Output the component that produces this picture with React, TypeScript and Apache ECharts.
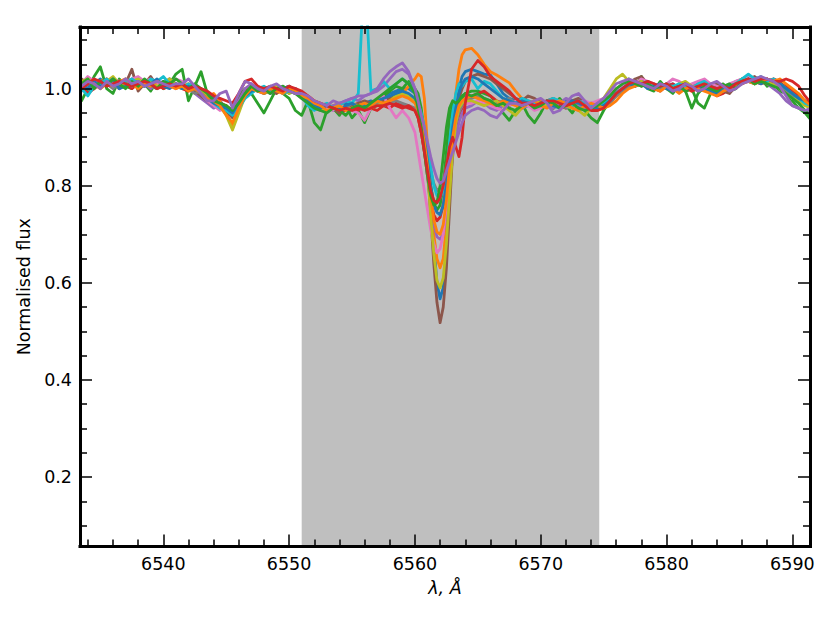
import React, { useEffect, useRef } from "react";
import * as echarts from "echarts";

// Wavelength grid (Angstrom)
const WAVELENGTH = [
  6533.5, 6534, 6534.5, 6535, 6535.5, 6536, 6536.5, 6537, 6537.5, 6538, 6538.5, 6539, 6539.5, 6540, 6540.5, 6541,
  6541.5, 6542, 6542.5, 6543, 6543.5, 6544, 6544.5, 6545, 6545.5, 6546, 6546.5, 6547, 6547.5, 6548, 6548.5, 6549, 6549.5, 6550, 6550.5, 6551,
  6551.5, 6552, 6552.5, 6553, 6553.5, 6554, 6554.5, 6555, 6555.5, 6556, 6556.5, 6557, 6557.5, 6558, 6558.5, 6559, 6559.5, 6560,
  6560.25, 6560.5, 6560.75, 6561, 6561.25, 6561.5, 6561.75, 6562, 6562.25, 6562.5, 6562.75, 6563, 6563.25, 6563.5, 6563.75, 6564,
  6564.5, 6565, 6565.5, 6566, 6566.5, 6567, 6567.5, 6568, 6568.5, 6569, 6569.5, 6570, 6570.5, 6571, 6571.5, 6572, 6572.5, 6573, 6573.5, 6574,
  6574.5, 6575, 6575.5, 6576, 6576.5, 6577, 6577.5, 6578, 6578.5, 6579, 6579.5, 6580, 6580.5, 6581, 6581.5, 6582, 6582.5, 6583, 6583.5, 6584,
  6584.5, 6585, 6585.5, 6586, 6586.5, 6587, 6587.5, 6588, 6588.5, 6589, 6589.5, 6590, 6590.5, 6591, 6591.5,
];

const SPEC_01 = [
  1.0, 0.99, 1.01, 1.02, 1.005, 1.015, 1.0, 1.01, 1.02, 1.005, 1.01, 1.0, 1.015, 1.01, 1.005, 1.01,
  1.005, 1.0, 0.995, 1.0, 0.99, 0.98, 0.975, 0.96, 0.95, 0.97, 0.99, 1.0, 0.995, 1.0, 0.99, 0.995, 1.0, 0.99, 1.0, 0.985,
  0.975, 0.97, 0.96, 0.965, 0.955, 0.96, 0.97, 0.965, 0.96, 0.97, 0.975, 0.97, 0.98, 0.99, 0.995, 1.0, 1.0, 0.99,
  0.975, 0.95, 0.91, 0.85, 0.77, 0.68, 0.6, 0.567, 0.59, 0.67, 0.78, 0.88, 0.95, 1.0, 1.025, 1.035,
  1.04, 1.035, 1.03, 1.028, 1.01, 0.99, 0.98, 0.975, 0.97, 0.965, 0.97, 0.975, 0.965, 0.96, 0.97, 0.975, 0.97, 0.96, 0.965, 0.97,
  0.965, 0.97, 0.98, 0.99, 1.0, 1.005, 1.015, 1.01, 1.005, 1.01,
  1.0, 1.005, 1.01, 1.0, 0.995, 1.0, 1.01, 1.005, 1.0, 0.99,
  0.995, 1.0, 1.01, 1.02, 1.015, 1.01, 1.02, 1.015, 1.01, 1.005,
  0.995, 0.985, 0.975, 0.97, 0.965,
];
const SPEC_02 = [
  1.01, 1.02, 1.005, 1.015, 1.02, 1.01, 1.0, 1.015, 1.01, 1.02, 1.005, 1.01, 1.0, 1.01, 1.015, 1.005,
  1.0, 1.01, 0.995, 0.99, 0.985, 0.99, 0.975, 0.95, 0.925, 0.96, 0.99, 1.0, 1.005, 0.995, 1.0, 0.99, 1.0, 1.005, 0.995, 0.99,
  0.985, 0.975, 0.97, 0.96, 0.965, 0.97, 0.96, 0.965, 0.97, 0.96, 0.965, 0.97, 0.975, 0.97, 0.98, 0.99, 1.005, 1.02,
  1.03, 1.025, 0.98, 0.88, 0.78, 0.7, 0.65, 0.631, 0.65, 0.72, 0.82, 0.92, 0.99, 1.04, 1.07, 1.08,
  1.083, 1.07, 1.05, 1.035, 1.028, 1.02, 1.012, 0.995, 0.98, 0.97, 0.965, 0.975, 0.965, 0.96, 0.97, 0.965, 0.975, 0.97, 0.96, 0.965,
  0.955, 0.96, 0.97, 0.985, 0.995, 1.005, 1.01, 1.015, 1.005, 1.0,
  1.01, 1.0, 0.995, 1.005, 1.0, 0.995, 1.005, 1.0, 0.995, 0.99,
  1.0, 1.005, 1.01, 1.015, 1.02, 1.015, 1.02, 1.01, 1.015, 1.01,
  1.0, 0.99, 0.98, 0.97, 0.96,
];
const SPEC_03 = [
  0.975, 1.0, 1.025, 1.045, 1.0, 0.99, 1.02, 1.005, 1.0, 1.02, 1.01, 0.995, 1.015, 1.0, 1.01, 1.03,
  1.04, 0.975, 1.005, 1.035, 0.99, 0.975, 0.96, 0.965, 0.95, 0.985, 1.0, 0.99, 0.97, 0.95, 0.975, 1.0, 0.99, 0.98, 0.955, 0.945,
  0.975, 0.93, 0.915, 0.955, 0.96, 0.945, 0.965, 0.94, 0.955, 0.93, 0.96, 0.975, 0.985, 0.995, 1.005, 1.0, 1.015, 1.0,
  0.99, 0.96, 0.91, 0.85, 0.8, 0.765, 0.75, 0.76, 0.8, 0.87, 0.94, 0.965, 0.975, 0.97, 0.98, 0.99,
  0.995, 0.995, 0.99, 0.985, 0.97, 0.95, 0.935, 0.955, 0.97, 0.945, 0.93, 0.95, 0.975, 0.96, 0.98, 0.965, 0.95, 0.97, 0.955, 0.94,
  0.93, 0.955, 0.975, 0.99, 1.0, 1.02, 1.005, 1.025, 1.0, 0.995,
  1.015, 1.0, 0.99, 1.01, 0.995, 1.0, 0.97, 0.96, 0.99, 1.005,
  1.01, 0.995, 1.0, 1.02, 1.025, 1.01, 1.02, 1.005, 1.01, 0.995,
  0.99, 0.975, 0.96, 0.95, 0.935,
];
const SPEC_04 = [
  1.005, 0.99, 1.0, 1.01, 1.02, 1.005, 1.015, 1.01, 1.0, 1.01, 1.005, 1.015, 1.01, 1.0, 1.005, 1.01,
  1.0, 0.995, 1.005, 0.99, 0.98, 0.975, 0.97, 0.965, 0.955, 0.975, 0.995, 1.005, 1.0, 0.99, 0.995, 1.0, 0.99, 0.995, 1.0, 0.99,
  0.98, 0.965, 0.96, 0.955, 0.96, 0.95, 0.955, 0.96, 0.955, 0.965, 0.96, 0.955, 0.965, 0.96, 0.97, 0.965, 0.96, 0.955,
  0.94, 0.91, 0.87, 0.82, 0.77, 0.74, 0.728, 0.735, 0.76, 0.8, 0.85, 0.89, 0.92, 0.945, 0.96, 0.975,
  0.985, 0.99, 0.995, 0.985, 0.975, 0.97, 0.965, 0.975, 0.98, 0.97, 0.96, 0.965, 0.975, 0.97, 0.965, 0.96, 0.97, 0.975, 0.965, 0.96,
  0.96, 0.965, 0.975, 0.99, 1.005, 1.01, 1.015, 1.005, 1.01, 1.0,
  0.995, 1.005, 1.01, 1.0, 1.005, 0.995, 1.0, 1.01, 0.995, 0.985,
  0.99, 1.0, 1.005, 1.01, 1.02, 1.015, 1.01, 1.015, 1.02, 1.01,
  1.005, 0.995, 0.985, 0.975, 0.97,
];
const SPEC_05 = [
  0.995, 1.01, 1.02, 1.005, 1.01, 1.015, 1.0, 1.01, 1.005, 1.02, 1.01, 1.0, 1.01, 1.015, 1.005, 1.01,
  1.005, 1.0, 0.99, 0.98, 0.97, 0.96, 0.965, 0.96, 0.955, 0.975, 1.0, 1.01, 0.995, 0.99, 1.0, 0.995, 1.0, 0.995, 0.99, 0.98,
  0.97, 0.965, 0.97, 0.96, 0.965, 0.97, 0.975, 0.98, 0.975, 0.985, 0.99, 0.995, 1.005, 1.02, 1.035, 1.04, 1.03, 1.0,
  0.97, 0.93, 0.88, 0.82, 0.76, 0.72, 0.695, 0.69, 0.7, 0.74, 0.8, 0.86, 0.9, 0.93, 0.95, 0.96,
  0.965, 0.975, 0.97, 0.96, 0.955, 0.965, 0.975, 0.97, 0.96, 0.965, 0.975, 0.97, 0.965, 0.96, 0.97, 0.98, 0.975, 0.965, 0.96, 0.97,
  0.97, 0.975, 0.985, 0.995, 1.005, 1.01, 1.015, 1.01, 1.005, 1.0,
  1.005, 1.01, 1.005, 0.995, 1.0, 1.005, 1.01, 1.005, 1.0, 0.995,
  1.0, 1.005, 1.015, 1.02, 1.025, 1.02, 1.015, 1.01, 1.0, 0.99,
  0.975, 0.965, 0.96, 0.955, 0.955,
];
const SPEC_06 = [
  1.02, 1.01, 1.0, 1.015, 1.005, 1.02, 1.005, 1.01, 1.04, 0.995, 1.01, 1.025, 1.005, 1.01, 1.02, 1.0,
  1.01, 1.005, 0.995, 0.985, 0.975, 0.965, 0.97, 0.955, 0.94, 0.96, 0.985, 0.995, 1.0, 0.995, 1.005, 0.99, 1.0, 1.005, 0.995, 0.985,
  0.975, 0.96, 0.955, 0.965, 0.96, 0.95, 0.96, 0.965, 0.97, 0.975, 0.97, 0.965, 0.975, 0.98, 0.985, 0.99, 0.985, 0.975,
  0.96, 0.94, 0.9, 0.84, 0.74, 0.64, 0.56, 0.518, 0.55, 0.63, 0.75, 0.87, 0.94, 0.98, 1.0, 1.015,
  1.025, 1.03, 1.025, 1.02, 1.01, 1.0, 0.99, 0.98, 0.975, 0.985, 0.98, 0.97, 0.975, 0.98, 0.97, 0.965, 0.975, 0.98, 0.97, 0.965,
  0.96, 0.965, 0.975, 0.985, 1.0, 1.01, 1.02, 1.025, 1.01, 1.005,
  1.0, 1.01, 1.005, 1.0, 1.01, 1.005, 0.995, 1.0, 1.005, 1.01,
  0.995, 0.99, 1.005, 1.01, 1.02, 1.025, 1.015, 1.01, 1.02, 1.015,
  1.0, 0.99, 0.98, 0.97, 0.96,
];
const SPEC_07 = [
  1.01, 1.025, 1.015, 1.005, 1.01, 1.02, 1.015, 1.005, 1.02, 1.025, 1.015, 1.02, 1.01, 1.005, 1.01, 1.02,
  1.015, 1.005, 1.0, 0.99, 0.975, 0.965, 0.955, 0.96, 0.95, 0.965, 0.99, 1.0, 1.005, 0.995, 1.0, 1.005, 0.995, 1.0, 0.99, 0.985,
  0.975, 0.97, 0.965, 0.96, 0.955, 0.965, 0.96, 0.955, 0.95, 0.935, 0.96, 0.975, 0.985, 0.96, 0.94, 0.955, 0.94, 0.91,
  0.87, 0.83, 0.79, 0.75, 0.71, 0.68, 0.662, 0.67, 0.7, 0.76, 0.83, 0.89, 0.93, 0.955, 0.965, 0.97,
  0.97, 0.975, 0.97, 0.965, 0.96, 0.955, 0.965, 0.975, 0.97, 0.965, 0.955, 0.96, 0.97, 0.975, 0.97, 0.965, 0.96, 0.97, 0.975, 0.97,
  0.975, 0.98, 0.99, 1.0, 1.005, 1.015, 1.01, 1.02, 1.015, 1.01,
  1.005, 1.01, 1.02, 1.015, 1.005, 1.01, 1.015, 1.02, 1.01, 1.005,
  1.0, 1.01, 1.015, 1.02, 1.025, 1.02, 1.015, 1.02, 1.01, 1.0,
  0.99, 0.98, 0.975, 0.97, 0.965,
];
const SPEC_08 = [
  1.0, 1.01, 1.005, 1.015, 1.01, 1.0, 1.01, 1.02, 1.005, 1.01, 1.015, 1.005, 1.0, 1.01, 1.02, 1.01,
  1.005, 1.0, 0.99, 0.995, 0.985, 0.975, 0.97, 0.96, 0.955, 0.97, 0.99, 0.995, 1.0, 0.995, 0.99, 1.0, 1.005, 0.995, 0.99, 0.985,
  0.975, 0.97, 0.96, 0.965, 0.96, 0.955, 0.96, 0.97, 0.965, 0.96, 0.965, 0.97, 0.965, 0.97, 0.975, 0.97, 0.965, 0.96,
  0.95, 0.93, 0.9, 0.86, 0.83, 0.805, 0.79, 0.795, 0.81, 0.84, 0.87, 0.9, 0.93, 0.95, 0.965, 0.975,
  0.98, 0.985, 0.98, 0.975, 0.97, 0.975, 0.98, 0.97, 0.965, 0.975, 0.97, 0.965, 0.97, 0.975, 0.97, 0.96, 0.965, 0.97, 0.965, 0.96,
  0.96, 0.96, 0.97, 0.985, 0.995, 1.005, 1.01, 1.015, 1.01, 1.005,
  1.0, 1.005, 1.0, 1.005, 1.01, 1.0, 1.005, 1.01, 1.005, 1.0,
  0.995, 1.005, 1.01, 1.015, 1.02, 1.015, 1.01, 1.015, 1.01, 1.005,
  0.995, 0.985, 0.975, 0.97, 0.96,
];
const SPEC_09 = [
  1.015, 1.02, 1.01, 1.0, 1.015, 1.025, 1.01, 1.005, 1.015, 1.02, 1.01, 1.015, 1.005, 1.01, 1.02, 1.01,
  1.005, 1.01, 1.0, 0.995, 0.985, 0.975, 0.965, 0.945, 0.915, 0.95, 0.985, 0.995, 1.0, 0.99, 0.995, 1.005, 1.0, 0.99, 0.995, 0.985,
  0.975, 0.965, 0.96, 0.955, 0.96, 0.965, 0.955, 0.96, 0.965, 0.97, 0.96, 0.965, 0.97, 0.975, 0.985, 0.99, 0.985, 0.975,
  0.96, 0.94, 0.9, 0.83, 0.74, 0.66, 0.605, 0.59, 0.61, 0.68, 0.78, 0.87, 0.93, 0.96, 0.97, 0.975,
  0.975, 0.97, 0.965, 0.97, 0.975, 0.965, 0.955, 0.945, 0.96, 0.97, 0.975, 0.97, 0.965, 0.97, 0.975, 0.965, 0.96, 0.955, 0.945, 0.96,
  0.96, 0.98, 1.0, 1.02, 1.03, 1.015, 1.01, 1.015, 1.005, 1.0,
  1.01, 1.005, 1.0, 1.01, 1.015, 1.005, 1.0, 1.01, 1.005, 0.995,
  1.0, 1.005, 1.01, 1.02, 1.015, 1.01, 1.02, 1.015, 1.01, 1.0,
  0.99, 0.98, 0.975, 0.965, 0.96,
];
const SPEC_10 = [
  1.0, 0.985, 1.005, 1.01, 1.02, 1.005, 1.01, 1.015, 1.02, 1.01, 1.005, 1.02, 1.015, 1.025, 1.01, 1.005,
  1.0, 1.01, 1.005, 0.99, 0.98, 0.97, 0.96, 0.955, 0.945, 0.96, 0.98, 0.99, 1.0, 1.005, 0.995, 1.0, 0.99, 0.995, 1.0, 0.985,
  0.965, 0.955, 0.965, 0.97, 0.96, 0.965, 0.975, 0.97, 0.99, 1.25, 0.995, 1.0, 1.015, 1.0, 1.01, 1.02, 1.01, 0.99,
  0.97, 0.95, 0.92, 0.88, 0.84, 0.8, 0.78, 0.775, 0.79, 0.83, 0.89, 0.95, 0.99, 1.01, 1.005, 1.015,
  1.02, 1.0, 1.015, 1.01, 0.995, 0.98, 0.975, 0.97, 0.98, 0.975, 0.97, 0.965, 0.975, 0.98, 0.975, 0.97, 0.965, 0.975, 0.97, 0.965,
  0.96, 0.97, 0.98, 0.99, 1.0, 1.01, 1.005, 1.01, 1.015, 1.005,
  1.01, 1.0, 1.005, 1.01, 1.005, 1.0, 1.01, 1.015, 1.005, 1.0,
  0.995, 1.005, 1.01, 1.02, 1.03, 1.02, 1.025, 1.015, 1.02, 1.01,
  1.0, 0.99, 0.98, 0.97, 0.965,
];
const SPEC_11 = [
  1.01, 1.0, 1.015, 1.005, 1.01, 1.02, 1.0, 1.005, 1.01, 1.015, 1.005, 1.01, 1.02, 1.005, 1.0, 1.01,
  1.0, 1.005, 1.0, 0.99, 0.98, 0.97, 0.965, 0.96, 0.95, 0.97, 0.985, 0.995, 1.0, 0.99, 1.0, 0.995, 1.0, 1.005, 0.995, 0.985,
  0.975, 0.965, 0.96, 0.965, 0.96, 0.955, 0.965, 0.97, 0.96, 0.965, 0.97, 0.975, 0.98, 0.985, 0.99, 0.995, 0.99, 0.98,
  0.965, 0.94, 0.9, 0.85, 0.8, 0.76, 0.745, 0.74, 0.76, 0.8, 0.86, 0.92, 0.96, 0.99, 1.01, 1.02,
  1.025, 1.02, 1.01, 1.0, 0.99, 0.98, 0.975, 0.97, 0.975, 0.97, 0.965, 0.97, 0.975, 0.965, 0.96, 0.97, 0.975, 0.97, 0.965, 0.96,
  0.96, 0.965, 0.975, 0.99, 1.0, 1.01, 1.005, 1.01, 1.0, 1.005,
  1.01, 1.0, 0.995, 1.005, 1.01, 1.0, 1.005, 1.0, 0.995, 0.99,
  1.0, 1.005, 1.01, 1.015, 1.02, 1.015, 1.01, 1.02, 1.015, 1.01,
  1.0, 0.99, 0.98, 0.975, 0.97,
];
const SPEC_12 = [
  1.005, 1.015, 1.01, 1.0, 1.01, 1.005, 1.015, 1.02, 1.01, 1.0, 1.01, 1.005, 1.015, 1.01, 1.005, 1.0,
  1.005, 0.995, 1.0, 0.99, 0.98, 0.975, 0.965, 0.945, 0.93, 0.96, 0.985, 1.0, 0.995, 0.99, 1.0, 0.995, 0.99, 1.0, 0.995, 0.985,
  0.98, 0.97, 0.965, 0.955, 0.96, 0.965, 0.955, 0.96, 0.965, 0.97, 0.965, 0.975, 0.97, 0.975, 0.98, 0.985, 0.98, 0.97,
  0.955, 0.93, 0.89, 0.84, 0.78, 0.73, 0.705, 0.7, 0.72, 0.77, 0.84, 0.9, 0.94, 0.965, 0.975, 0.98,
  0.985, 0.98, 0.975, 0.97, 0.965, 0.975, 0.97, 0.965, 0.96, 0.97, 0.975, 0.965, 0.96, 0.97, 0.975, 0.97, 0.96, 0.955, 0.965, 0.97,
  0.965, 0.96, 0.965, 0.975, 0.99, 1.0, 1.005, 1.01, 1.005, 1.0,
  0.995, 1.005, 1.0, 0.99, 1.0, 1.005, 1.0, 0.995, 0.99, 0.985,
  0.995, 1.0, 1.005, 1.01, 1.015, 1.01, 1.015, 1.02, 1.015, 1.02,
  1.01, 1.0, 0.99, 0.975, 0.965,
];
const SPEC_13 = [
  1.01, 1.02, 1.0, 1.015, 1.005, 1.02, 1.01, 1.0, 1.015, 1.005, 1.02, 1.01, 1.0, 1.015, 1.01, 1.02,
  1.01, 1.0, 1.01, 1.0, 0.99, 0.975, 0.97, 0.965, 0.955, 0.97, 0.99, 1.005, 0.995, 1.0, 0.99, 1.0, 1.005, 0.995, 0.99, 0.98,
  0.97, 0.96, 0.955, 0.95, 0.96, 0.955, 0.945, 0.96, 0.965, 0.96, 0.97, 0.98, 0.99, 1.0, 1.01, 1.02, 1.01, 0.99,
  0.96, 0.92, 0.87, 0.82, 0.78, 0.76, 0.765, 0.8, 0.86, 0.92, 0.96, 0.975, 0.97, 0.975, 0.985, 0.99,
  0.985, 0.99, 0.98, 0.975, 0.965, 0.97, 0.96, 0.955, 0.965, 0.97, 0.96, 0.965, 0.975, 0.97, 0.96, 0.965, 0.97, 0.96, 0.955, 0.96,
  0.965, 0.975, 0.985, 1.0, 1.01, 1.015, 1.01, 1.005, 1.01, 1.0,
  1.005, 1.01, 1.0, 1.005, 0.995, 0.96, 0.99, 1.005, 1.0, 0.995,
  1.005, 1.01, 1.0, 1.015, 1.02, 1.01, 1.015, 1.01, 1.005, 1.0,
  0.99, 0.98, 0.97, 0.955, 0.94,
];
const SPEC_14 = [
  1.0, 1.01, 1.02, 1.015, 1.005, 1.01, 1.015, 1.01, 1.005, 1.01, 1.015, 1.01, 1.0, 1.005, 1.01, 1.005,
  1.01, 1.0, 1.005, 1.0, 0.995, 0.985, 0.98, 0.975, 0.97, 0.99, 1.015, 1.02, 1.005, 1.0, 1.005, 1.0, 0.995, 1.005, 1.0, 0.995,
  0.985, 0.975, 0.97, 0.965, 0.96, 0.955, 0.96, 0.955, 0.96, 0.955, 0.96, 0.965, 0.965, 0.97, 0.965, 0.96, 0.965, 0.955,
  0.94, 0.91, 0.87, 0.83, 0.79, 0.77, 0.765, 0.775, 0.8, 0.84, 0.88, 0.9, 0.88, 0.86, 0.9, 0.97,
  1.04, 1.058, 1.045, 1.025, 1.015, 1.005, 0.995, 0.98, 0.97, 0.97, 0.965, 0.97, 0.975, 0.975, 0.97, 0.965, 0.97, 0.975, 0.965, 0.955,
  0.955, 0.96, 0.975, 0.99, 1.0, 1.01, 1.015, 1.01, 1.015, 1.01,
  1.005, 1.01, 1.0, 1.005, 1.01, 1.0, 1.005, 1.01, 1.005, 1.0,
  1.005, 1.0, 1.01, 1.015, 1.02, 1.015, 1.02, 1.02, 1.015, 1.015,
  1.02, 1.015, 1.005, 0.985, 0.97,
];
const SPEC_15 = [
  1.005, 1.015, 1.01, 1.0, 1.015, 1.005, 1.01, 1.02, 1.01, 1.015, 1.005, 1.01, 1.015, 1.01, 1.005, 1.01,
  1.01, 1.02, 1.005, 0.99, 0.975, 0.975, 0.99, 0.995, 0.96, 0.99, 1.015, 1.01, 1.0, 0.995, 1.005, 1.01, 1.0, 0.995, 0.99, 0.99,
  0.985, 0.975, 0.97, 0.965, 0.975, 0.97, 0.975, 0.98, 0.985, 0.985, 0.99, 1.0, 1.02, 1.035, 1.045, 1.053, 1.035, 1.0,
  0.975, 0.945, 0.92, 0.89, 0.86, 0.835, 0.815, 0.805, 0.81, 0.83, 0.85, 0.87, 0.89, 0.91, 0.93, 0.945,
  0.955, 0.96, 0.955, 0.945, 0.94, 0.955, 0.97, 0.97, 0.965, 0.97, 0.975, 0.98, 0.97, 0.95, 0.955, 0.97, 0.985, 0.99, 0.975, 0.96,
  0.97, 0.98, 0.995, 1.01, 1.015, 1.02, 1.015, 1.01, 1.005, 1.0,
  1.01, 1.005, 0.995, 1.0, 1.01, 1.005, 0.995, 1.0, 1.01, 1.015,
  1.005, 0.995, 1.0, 1.01, 1.015, 1.02, 1.025, 1.02, 1.015, 1.005,
  0.985, 0.965, 0.96, 0.955, 0.96,
];

const SPECTRA = [
  SPEC_01, SPEC_02, SPEC_03, SPEC_04, SPEC_05, SPEC_06, SPEC_07, SPEC_08,
  SPEC_09, SPEC_10, SPEC_11, SPEC_12, SPEC_13, SPEC_14, SPEC_15,
];
const COLORS = [
  "#1f77b4", "#ff7f0e", "#2ca02c", "#d62728", "#9467bd",
  "#8c564b", "#e377c2", "#7f7f7f", "#bcbd22", "#17becf",
];

// Shaded wavelength window
const SHADE_RANGE = [6551.0, 6574.65];

// Axis ranges and ticks
const X_RANGE = [6533.38, 6591.4];
const Y_RANGE = [0.057, 1.127];
const X_MAJOR = [6540, 6550, 6560, 6570, 6580, 6590];
const X_MINOR = [
  6534, 6536, 6538, 6542, 6544, 6546, 6548, 6552, 6554, 6556, 6558, 6562, 6564, 6566, 6568,
  6572, 6574, 6576, 6578, 6582, 6584, 6586, 6588,
];
const Y_MAJOR = [0.2, 0.4, 0.6, 0.8, 1.0];
const Y_MINOR = [0.1, 0.15, 0.25, 0.3, 0.35, 0.45, 0.5, 0.55, 0.65, 0.7, 0.75, 0.85, 0.9, 0.95, 1.05, 1.1];

const FONT = "DejaVu Sans";
const FONT_SIZE = 17.5;

function makeAxis(
  kind: "x" | "y",
  position: string,
  ticks: number[],
  tickLen: number,
  withLabels: boolean,
  withLine: boolean
): any {
  const range = kind === "x" ? X_RANGE : Y_RANGE;
  return {
    type: "value",
    position,
    min: range[0],
    max: range[1],
    z: 10,
    splitLine: { show: false },
    axisLine: { show: withLine, onZero: false, lineStyle: { color: "#000", width: 3, cap: "square" } },
    axisTick: {
      show: true,
      inside: true,
      length: tickLen,
      customValues: ticks,
      lineStyle: { color: "#000", width: 1.5 },
    },
    axisLabel: withLabels
      ? {
          show: true,
          customValues: ticks,
          margin: kind === "x" ? 8 : 8,
          color: "#000",
          fontFamily: FONT,
          fontSize: FONT_SIZE,
          formatter: (v: number) => (kind === "x" ? String(Math.round(v)) : v.toFixed(1)),
        }
      : { show: false },
  };
}

export default function App() {
  const ref = useRef<HTMLDivElement>(null);

  useEffect(() => {
    if (!ref.current) return;
    const chart = echarts.init(ref.current, undefined, { renderer: "svg" });

    const xMain = makeAxis("x", "bottom", X_MAJOR, 12, true, true);
    xMain.name = "λ, Å";
    xMain.nameLocation = "middle";
    xMain.nameGap = 32;
    xMain.nameTextStyle = { fontFamily: FONT, fontSize: FONT_SIZE, fontStyle: "italic", color: "#000" };

    const yMain = makeAxis("y", "left", Y_MAJOR, 12, true, true);
    yMain.name = "Normalised flux";
    yMain.nameLocation = "middle";
    yMain.nameGap = 45;
    yMain.nameRotate = 90;
    yMain.nameTextStyle = { fontFamily: FONT, fontSize: FONT_SIZE, color: "#000" };

    const lineSeries = SPECTRA.map((spec, i) => ({
      type: "line",
      name: "spec" + (i + 1),
      data: WAVELENGTH.map((w, j) => [w, spec[j]]),
      showSymbol: false,
      symbol: "none",
      clip: true,
      silent: true,
      z: 3,
      lineStyle: { color: COLORS[i % COLORS.length], width: 2.8, join: "round", cap: "round" },
      itemStyle: { color: COLORS[i % COLORS.length] },
      emphasis: { disabled: true },
    }));

    chart.setOption({
      animation: false,
      backgroundColor: "#fff",
      grid: { left: 80, right: 20, top: 27, bottom: 76.5, containLabel: false, outerBoundsMode: "none" },
      xAxis: [
        xMain,
        makeAxis("x", "bottom", X_MINOR, 7, false, false),
        makeAxis("x", "top", X_MAJOR, 12, false, true),
        makeAxis("x", "top", X_MINOR, 7, false, false),
      ],
      yAxis: [
        yMain,
        makeAxis("y", "left", Y_MINOR, 7, false, false),
        makeAxis("y", "right", Y_MAJOR, 12, false, true),
        makeAxis("y", "right", Y_MINOR, 7, false, false),
      ],
      series: [
        {
          type: "line",
          name: "window",
          data: [],
          z: 1,
          silent: true,
          markArea: {
            silent: true,
            itemStyle: { color: "#bfbfbf", opacity: 1 },
            data: [[{ xAxis: SHADE_RANGE[0] }, { xAxis: SHADE_RANGE[1] }]],
          },
        },
        ...lineSeries,
      ],
    });

    return () => chart.dispose();
  }, []);

  return (
    <div
      ref={ref}
      style={{ position: "fixed", left: 0, top: 0, width: 830, height: 623, background: "#fff" }}
    />
  );
}
